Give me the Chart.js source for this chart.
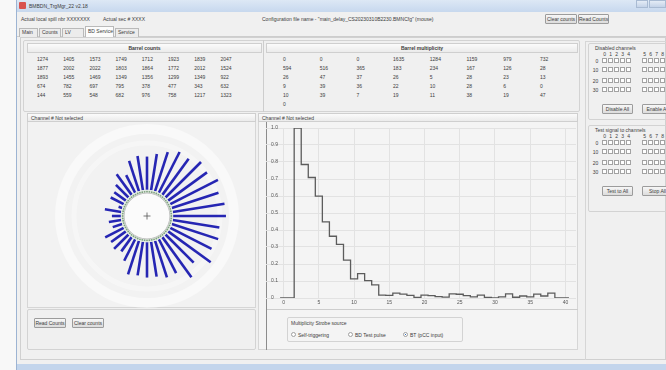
<!DOCTYPE html>
<html>
<head>
<meta charset="utf-8">
<script src="https://cdn.jsdelivr.net/npm/chart.js@4.4.0/dist/chart.umd.min.js"></script>
<style>
* { margin: 0; padding: 0; box-sizing: border-box; }
body { width: 666px; height: 370px; overflow: hidden; background: #f8f8f8; position: relative;
       font-family: "Liberation Sans", Arial, sans-serif; font-size: 5px; color: #3c3c3c; }
div, canvas { position: absolute; }
.t { white-space: nowrap; height: 8px; line-height: 8px; }
.btn { border: 1px solid #9c9c9c; border-radius: 1px; background: linear-gradient(#f7f7f7, #dcdcdc);
       text-align: center; white-space: nowrap; font-size: 5px; }
.grp { border: 1px solid #d3d3d3; border-radius: 2px; }
.hdr { border: 1px solid #cfcfcf; background: linear-gradient(#fbfbfb, #ebebeb); }
.cb { width: 5px; height: 5px; border: 1px solid #a3a3a3; background: #fff; }
.line { background: #cdcdcd; }
</style>
</head>
<body>
<div id="win" style="left:0;top:0;width:666px;height:370px"></div>
<canvas id="barrelChart" width="242" height="242" style="left:26px;top:95px"></canvas>
<canvas id="multChart" width="310" height="188" style="left:266px;top:120px"></canvas>
<script>
// Barrel counts (5 rows x 8)
const barrelCounts = [
    1274, 1405, 1573, 1749, 1712, 1923, 1839, 2047,
    1877, 2002, 2022, 1803, 1864, 1772, 2012, 1524,
    1893, 1455, 1469, 1349, 1356, 1299, 1349, 922,
    674, 782, 697, 795, 378, 477, 343, 632,
    144, 559, 548, 682, 976, 758, 1217, 1323
];

// Barrel multiplicity (bins 0..40)
const barrelMultiplicity = [
    0, 0, 0, 1635, 1284, 1159, 979, 732,
    594, 516, 365, 183, 234, 167, 126, 28,
    26, 47, 37, 26, 5, 28, 23, 13,
    9, 39, 36, 22, 10, 28, 6, 0,
    10, 39, 7, 19, 11, 38, 19, 47,
    0
];

const xTicks = [0, 5, 10, 15, 20, 25, 30, 35, 40];
const yTicks = [0, 0.1, 0.2, 0.3, 0.4, 0.5, 0.6, 0.7, 0.8, 0.9, 1.0];
const yTickLabels = ['0', '0.1', '0.2', '0.3', '0.4', '0.5', '0.6', '0.7', '0.8', '0.9', '1.0'];

const strobeSources = ['Self-triggering', 'BD Test pulse', 'BT (pCC input)'];
const tabs = ['Main', 'Counts', 'LV', 'BD Service', 'Service'];
const rowLabels = ['0', '10', '20', '30'];
const colLabels = ['0', '1', '2', '3', '4', '5', '6', '7', '8'];

const win = document.getElementById('win');

// helpers para montar la ventana
function box(x, y, w, h, cls, text, css) {
    const d = document.createElement('div');
    d.className = cls || '';
    d.style.cssText = `left:${x}px;top:${y}px;width:${w}px;height:${h}px;` + (css || '');
    if (text) {
        d.textContent = text;
        d.style.lineHeight = (h - 2) + 'px';
    }
    win.appendChild(d);
    return d;
}
function txt(x, y, s, css) {
    const d = document.createElement('div');
    d.className = 't';
    d.style.cssText = `left:${x}px;top:${y - 4}px;` + (css || '');
    d.textContent = s;
    win.appendChild(d);
    return d;
}

// marco de la ventana
box(16, 0, 650, 370, '', '', 'background:#f0f0f0;border-left:1px solid #9db4d3');
box(17, 0, 649, 12, '', '', 'background:linear-gradient(#dde8f5,#c7d8ee)');
box(19, 2, 7, 7, '', '', 'background:#d9534f;border-radius:1px');
txt(29, 6, 'BMBDN_TrgMgr_22  v2.18');
box(636, 0, 12, 8, '', '', 'background:linear-gradient(#e4ecf6,#c4d3e8);border:1px solid #a9bbd3');
box(649, 0, 17, 8, '', '', 'background:linear-gradient(#e4ecf6,#c4d3e8);border:1px solid #a9bbd3');
box(17, 364, 649, 6, '', '', 'background:#c3d5ec');

// barra de info
txt(21, 19, 'Actual local spill nbr   XXXXXXX');
txt(103, 19, 'Actual sec # XXXX');
txt(262, 19, 'Configuration file name - "main_delay_CS20230310B2230.BMNCfg"  (mouse)');
box(545, 14, 32, 10, 'btn', 'Clear counts');
box(578, 14, 31, 10, 'btn', 'Read Counts');

// pestañas
box(17, 36, 649, 1, 'line');
let tx = 19;
const tabW = [19, 22, 22, 29, 24];
tabs.forEach((name, i) => {
    const sel = name === 'BD Service';
    box(tx, sel ? 26 : 28, tabW[i], sel ? 11 : 9, '', name,
        'border:1px solid #b9b9b9;border-bottom:none;padding-left:2px;white-space:nowrap;background:' + (sel ? '#fcfcfc' : '#ececec'));
    tx += tabW[i] + 1;
});

// contenido principal
box(20, 37, 646, 323, '', '', 'border:1px solid #d0d0d0;background:#f0f0f0');

// Barrel counts / multiplicity
box(23, 40, 557, 72, 'grp');
box(263, 40, 1, 72, 'line');
box(27, 43, 235, 10, 'hdr', 'Barrel counts', 'text-align:center;font-weight:bold');
box(266, 43, 312, 10, 'hdr', 'Barrel multiplicity', 'text-align:center;font-weight:bold');
barrelCounts.forEach((v, i) => txt(37 + (i % 8) * 26.2, 59 + Math.floor(i / 8) * 9, String(v)));
barrelMultiplicity.forEach((v, i) => txt(283 + (i % 8) * 36.7, 59 + Math.floor(i / 8) * 9, String(v)));

// cabeceras de canal
box(27, 113, 229, 9, 'hdr', '', '');
txt(31, 117.5, 'Channel #  Not selected');
box(258, 113, 320, 9, 'hdr', '', '');
txt(262, 117.5, 'Channel #  Not selected');

// panel izquierdo (radial)
box(27, 122, 229, 186, '', '', 'border:1px solid #d6d6d6;border-top:none;background:#f2f2f2');
box(27, 309, 229, 41, 'grp');
box(34, 318, 32, 10, 'btn', 'Read Counts');
box(72, 318, 32, 10, 'btn', 'Clear counts');

// panel central (histograma)
box(258, 122, 320, 228, '', '', 'border:1px solid #d6d6d6;border-top:none;background:#f4f4f4');
box(266, 122, 1, 228, '', '', 'background:#8c8c8c');
box(267, 309, 311, 1, 'line');
box(287, 317, 176, 25, 'grp');
txt(291, 323, 'Multiplicity Strobe source');
const radioX = [291, 348, 403];
strobeSources.forEach((s, i) => {
    box(radioX[i], 332, 5, 5, '', '', 'border:1px solid #a0a0a0;border-radius:50%;background:' +
        (i === 2 ? 'radial-gradient(#3b6fb6 35%, #fff 45%)' : '#fff'));
    txt(radioX[i] + 7, 334.5, s);
});

// panel derecho (canales)
box(585, 41, 81, 319, '', '', 'border-left:1px solid #d6d6d6;border-top:1px solid #d6d6d6');
function channelGroup(y0, title, b1, b2) {
    box(588, y0, 80, y0 === 43 ? 77 : 87, 'grp');
    txt(595, y0 + 5, title);
    colLabels.forEach((lab, c) => {
        txt((c < 5 ? 602 + c * 6 : 642 + (c - 5) * 6) + 1.2, y0 + 11, lab);
    });
    rowLabels.forEach((lab, r) => {
        const y = y0 + 15 + r * 9 + (r > 1 ? 2 : 0);
        txt(598 - lab.length * 2.6, y + 2.5, lab);
        for (let c = 0; c < 9; c++) {
            box(c < 5 ? 602 + c * 6 : 642 + (c - 5) * 6, y, 5, 5, 'cb');
        }
    });
    box(602, y0 + 61, 31, 10, 'btn', b1);
    box(642, y0 + 61, 31, 10, 'btn', b2);
}
channelGroup(43, 'Disabled channels', 'Disable All', 'Enable All');
channelGroup(125, 'Test signal to channels', 'Test to All', 'Stop All');

const fontFamily = '"Liberation Sans", Arial, sans-serif';

// Gráfico radial de Barrel counts
const barrelPlugin = {
    id: 'barrel',
    beforeDatasetsDraw(chart) {
        const s = chart.scales.r;
        const c = chart.ctx;
        c.save();
        c.strokeStyle = 'rgba(255,255,255,0.5)';
        c.lineWidth = 10;
        c.beginPath(); c.arc(s.xCenter, s.yCenter, 87, 0, 2 * Math.PI); c.stroke();
        c.lineWidth = 5;
        c.strokeStyle = 'rgba(255,255,255,0.35)';
        c.beginPath(); c.arc(s.xCenter, s.yCenter, 73, 0, 2 * Math.PI); c.stroke();
        c.restore();
    },
    afterDatasetsDraw(chart) {
        const s = chart.scales.r;
        const c = chart.ctx;
        const r0 = s.getDistanceFromCenterForValue(0);
        c.save();
        c.strokeStyle = '#2626b3';
        c.lineWidth = 2.6;
        chart.getDatasetMeta(0).data.forEach(arc => {
            const a = (arc.startAngle + arc.endAngle) / 2;
            c.beginPath();
            c.moveTo(arc.x + Math.cos(a) * r0, arc.y + Math.sin(a) * r0);
            c.lineTo(arc.x + Math.cos(a) * arc.outerRadius, arc.y + Math.sin(a) * arc.outerRadius);
            c.stroke();
        });
        // hub
        c.fillStyle = '#e4ece4';
        c.beginPath(); c.arc(s.xCenter, s.yCenter, r0, 0, 2 * Math.PI); c.fill();
        c.fillStyle = '#7fa27f';
        for (let k = 0; k < 64; k++) {
            const a = k * Math.PI / 32;
            c.beginPath();
            c.arc(s.xCenter + Math.cos(a) * (r0 - 1.8), s.yCenter + Math.sin(a) * (r0 - 1.8), 0.9, 0, 2 * Math.PI);
            c.fill();
        }
        c.fillStyle = '#fbfbfb';
        c.strokeStyle = '#b5b5b5';
        c.lineWidth = 0.8;
        c.beginPath(); c.arc(s.xCenter, s.yCenter, r0 - 3.2, 0, 2 * Math.PI); c.fill(); c.stroke();
        c.strokeStyle = '#555';
        c.lineWidth = 0.8;
        c.beginPath();
        c.moveTo(s.xCenter - 3.5, s.yCenter); c.lineTo(s.xCenter + 3.5, s.yCenter);
        c.moveTo(s.xCenter, s.yCenter - 3.5); c.lineTo(s.xCenter, s.yCenter + 3.5);
        c.stroke();
        c.restore();
    }
};

new Chart(document.getElementById('barrelChart'), {
    type: 'polarArea',
    data: {
        labels: barrelCounts.map((v, i) => 'ch' + i),
        datasets: [{
            data: barrelCounts,
            backgroundColor: 'rgba(0,0,0,0)',
            borderWidth: 0
        }]
    },
    options: {
        responsive: false,
        animation: false,
        layout: { padding: 40 },
        plugins: { legend: { display: false }, tooltip: { enabled: false } },
        scales: {
            r: { display: false, min: -1000, max: 2100, startAngle: -4.5 }
        }
    },
    plugins: [barrelPlugin]
});

// Histograma de multiplicidad (normalizado al máximo)
const maxMult = Math.max(...barrelMultiplicity);
const stepPoints = barrelMultiplicity.map((v, i) => ({ x: i - 0.5, y: v / maxMult }));
stepPoints.push({ x: barrelMultiplicity.length - 0.5, y: barrelMultiplicity[barrelMultiplicity.length - 1] / maxMult });

new Chart(document.getElementById('multChart'), {
    type: 'line',
    data: {
        datasets: [{
            data: stepPoints,
            stepped: 'after',
            borderColor: '#5c5c5c',
            borderWidth: 1.3,
            pointRadius: 0,
            fill: false
        }]
    },
    options: {
        responsive: false,
        animation: false,
        layout: { padding: 0 },
        plugins: { legend: { display: false }, tooltip: { enabled: false } },
        scales: {
            x: {
                type: 'linear',
                min: -2.5,
                max: 41.5,
                afterBuildTicks: s => { s.ticks = xTicks.map(v => ({ value: v })); },
                ticks: { font: { size: 5, family: fontFamily }, color: '#555', padding: 2, maxRotation: 0, autoSkip: false },
                grid: { color: '#e2e2e2', drawTicks: false },
                border: { display: false }
            },
            y: {
                min: 0,
                max: 1.0,
                afterBuildTicks: s => { s.ticks = yTicks.map(v => ({ value: v })); },
                afterFit: s => { s.width = 0; },
                ticks: {
                    mirror: true,
                    padding: 5,
                    font: { size: 5, family: fontFamily },
                    color: '#555',
                    autoSkip: false,
                    callback: (v, i) => yTickLabels[i]
                },
                grid: { color: '#e2e2e2', drawTicks: false },
                border: { display: false }
            }
        }
    }
});
</script>
</body>
</html>
